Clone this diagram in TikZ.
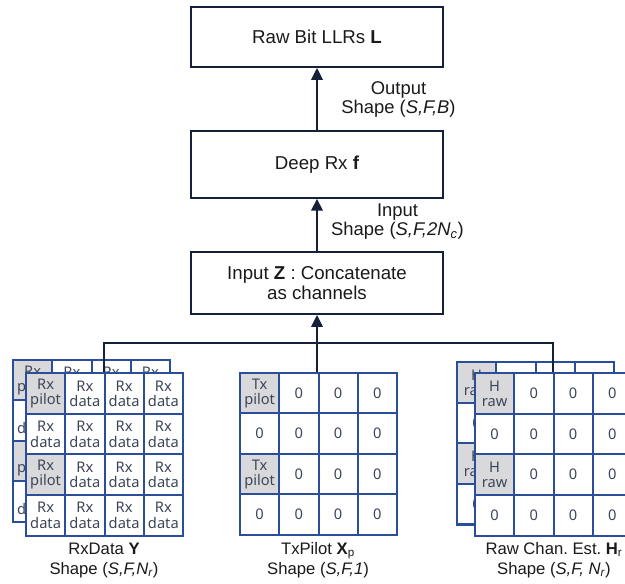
\documentclass[tikz,border=0pt]{standalone}
\usepackage{fontspec}
\setmainfont{Liberation Sans}
\newfontfamily\cellfont{Noto Sans}
\usetikzlibrary{arrows.meta}
\definecolor{navy}{HTML}{15203A}
\definecolor{gridblue}{HTML}{2B4E9B}
\definecolor{pilotgrey}{HTML}{D9D9DB}
\definecolor{celltext}{HTML}{3C4658}
\definecolor{labeltext}{HTML}{1A1A1A}
% #1 name, #2 x0, #3 y0, #4 pilot text, #5 other text, #6 1 = back layer (texts only where they peek out)
\newcommand\mygrid[6]{%
  \foreach \r in {0,1,2,3}{\foreach \c in {0,1,2,3}{%
    \pgfmathtruncatemacro\isp{(\c==0)*(mod(\r,2)==0)}%
    \pgfmathtruncatemacro\shw{(#6==0)+(\r==0)+(\c==0)}%
    \ifnum\isp=1
      \node[pilot] (#1-\r-\c) at ({#2+\c*39.25},{#3+\r*40.5}) {\ifnum\shw>0 #4\fi};
    \else
      \node[cell] (#1-\r-\c) at ({#2+\c*39.25},{#3+\r*40.5}) {\ifnum\shw>0 #5\fi};
    \fi
  }}}
\begin{document}
\frenchspacing
\begin{tikzpicture}[x=0.75pt,y=-0.75pt,
  box/.style={draw=navy, line width=1.3pt, fill=white, minimum width=189pt, inner sep=0pt, align=center, text=labeltext, font=\fontsize{14}{15}\selectfont},
  flow/.style={draw=navy, line width=1.8pt, -{Triangle[length=9pt,width=8.5pt]}},
  bus/.style={draw=navy, line width=1.5pt},
  cell/.style={draw=gridblue, line width=1.5pt, fill=white, minimum width=29.44pt, minimum height=30.375pt, inner sep=0pt, anchor=north west, align=center, text=celltext, font=\cellfont\fontsize{11}{11.5}\selectfont},
  pilot/.style={cell, fill=pilotgrey},
  lbl/.style={align=center, text=labeltext, font=\fontsize{12.5}{15}\selectfont},
  sidelbl/.style={align=center, text=labeltext, font=\fontsize{13.8}{14.5}\selectfont}
]
\clip (0,0) rectangle (625,584);
\fill[white] (0,0) rectangle (625,584);

% processing boxes
\node[box, minimum height=45pt] (top) at (317,37) {Raw Bit LLRs \textbf{L}};
\node[box, minimum height=50pt] (deep) at (317,164.5) {Deep Rx \textbf{f}};
\node[box, minimum height=46.5pt] (concat) at (317,283) {Input \textbf{Z} : Concatenate\\as channels};

\draw[flow] (deep.north) -- (top.south);
\draw[flow] (concat.north) -- (deep.south);

\node[sidelbl] (outlbl) at (398.5,99.5) {Output\\Shape (\textit{S,F,B})};
\node[sidelbl] (inlbl) at (397.5,221.5) {Input\\Shape (\textit{S,F,2N\textsubscript{c}})};

% back grids
\mygrid{LB}{12}{359}{Rx\\pilot}{Rx\\data}{1}
\mygrid{RB}{456}{361.5}{H\\raw}{0}{1}

% connectors
\coordinate (rxtop) at (103.5,372.5);
\coordinate (txtop) at (317,372);
\coordinate (htop) at (552.5,372.5);
\coordinate (busy) at (0,343);
\draw[bus] (rxtop) -- (rxtop |- busy) -- (htop |- busy) -- (htop);
\draw[flow] (txtop) -- (concat.south);

% front grids
\mygrid{LF}{25}{372.5}{Rx\\pilot}{Rx\\data}{0}
\mygrid{TX}{239}{372}{Tx\\pilot}{0}{0}
\mygrid{RF}{474}{372.5}{H\\raw}{0}{0}

% captions
\node[lbl] (rxlbl) at (104,560) {RxData \textbf{Y}\\Shape (\textit{S,F,N\textsubscript{r}})};
\node[lbl] (txlbl) at (318,560) {TxPilot \textbf{X}\textsubscript{p}\\Shape (\textit{S,F,1})};
\node[lbl] (hlbl) at (554,560) {Raw Chan. Est. \textbf{H}\textsubscript{r}\\Shape (\textit{S,F, N\textsubscript{r}})};
\end{tikzpicture}
\end{document}
